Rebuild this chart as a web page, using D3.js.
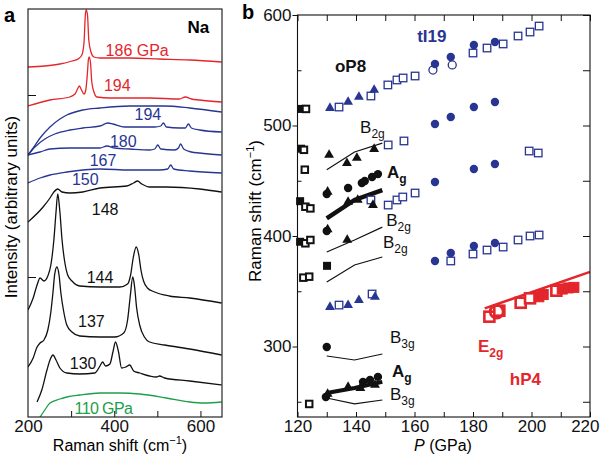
<!DOCTYPE html>
<html>
<head>
<meta charset="utf-8">
<script src="https://cdn.jsdelivr.net/npm/d3@7"></script>
<style>
  body { margin: 0; background: #fff; }
  svg text { font-family: "Liberation Sans", Arial, Helvetica, sans-serif; }
</style>
</head>
<body>
<svg id="chart" width="600" height="458"></svg>
<script>
// Set colours
var redColour = '#e3262c';
var blueColour = '#283593';
var greenColour = '#1c9e4b';
var blackColour = '#111111';

// ---- Panel a: Raman spectra, [shift (cm-1), intensity (arb.)] ----
var spec186 = [[200,350],[239,351],[274,353],[302,356],[316,358],[325,362],[330,375],[333,402],[335,407],[338,402],[341,377],[346,365],[353,360],[367,359],[436,359],[505,358],[575,357],[649,355]];
var spec194red = [[200,311],[251,317],[297,320],[309,323],[316,329],[319,331],[323,328],[330,323],[334,327],[338,345],[340,357],[342,360],[345,354],[348,335],[353,325],[360,320],[390,319],[482,319],[551,318],[565,320],[579,318],[598,317],[649,315]];
var spec194blue = [[200,262],[212,269],[228,279],[251,290],[274,298],[290,302],[327,307],[367,309],[436,311],[517,311],[575,309],[649,305]];
var spec180 = [[200,262],[216,270],[239,278],[262,283],[297,287],[327,289],[367,291],[385,294],[397,293],[424,290],[459,290],[494,290],[508,291],[514,294],[521,290],[551,289],[565,289],[572,293],[579,289],[598,287],[649,285]];
var spec167 = [[200,262],[228,265],[251,268],[297,269],[367,269],[383,271],[401,269],[436,268],[482,267],[494,268],[501,272],[508,268],[540,267],[549,269],[554,273],[561,268],[579,265],[598,264],[649,262]];
var spec150 = [[200,234],[228,239],[251,242],[290,245],[367,248],[436,247],[505,247],[524,248],[531,252],[538,248],[575,246],[649,244]];
var spec148 = [[200,195],[235,210],[251,219],[260,225],[269,228],[279,225],[297,224],[327,225],[367,229],[429,231],[445,234],[454,236],[464,233],[482,230],[521,230],[598,228],[649,225]];
var spec144 = [[200,107],[212,119],[221,132],[228,139],[237,136],[246,141],[253,152],[260,177],[265,205],[269,223],[274,205],[279,177],[286,153],[292,142],[302,136],[320,131],[367,130],[413,130],[431,133],[438,142],[444,159],[451,170],[457,162],[462,147],[468,136],[477,129],[494,125],[528,121],[575,119],[649,114]];
var spec137 = [[200,50],[212,59],[221,70],[228,74],[237,77],[246,87],[253,105],[258,125],[262,143],[267,150],[272,142],[276,125],[283,105],[290,92],[302,85],[320,81],[367,80],[401,80],[422,84],[431,97],[437,120],[443,140],[447,131],[452,109],[459,92],[470,80],[482,75],[517,72],[575,68],[649,62]];
var spec130 = [[221,15],[232,27],[244,47],[251,57],[258,62],[265,57],[274,49],[290,44],[320,43],[355,44],[367,51],[373,55],[380,51],[390,53],[397,65],[403,75],[410,65],[417,49],[427,50],[436,52],[445,46],[459,44],[482,41],[498,40],[505,41],[517,39],[575,36],[649,32]];
var spec110 = [[228,0],[239,7],[251,14],[274,18],[290,20],[320,22],[367,24],[413,24],[459,23],[521,19],[575,15],[609,14],[649,15]];

var shiftTicks = [300, 400, 500, 600];
var shiftLabels = [200, 400, 600];
var intensityTicks = [140, 322];

// ---- Panel b: Raman shift vs pressure, [P (GPa), shift (cm-1)] ----
var oP8OpenSquares = [[122.9,515],[122.2,478],[122.5,460],[122.7,426.5],[124.4,425],[122.7,393.4],[124.4,396.4],[122,362.3],[124,363.2],[124,248]];
var oP8FilledSquares = [[121.2,515],[121.2,479],[120.9,431.5],[120.9,394.8],[130.1,373]];
var oP8Triangles = [[130.8,473.3],[136.9,466],[140.3,470.6],[146.2,478.7],[130.3,440],[137.3,430.8],[140.6,432.6],[145.8,428],[130.3,406],[137,396.4],[130.3,257],[137.3,263.3],[141.5,262.4],[146.5,265.2]];
var oP8Circles = [[130,438],[137.3,443.4],[142,448],[143,449.8],[145.5,453.4],[147.5,456],[130,404.5],[130,299.5],[129.7,254.3],[142.4,268],[144.8,269.8],[147.5,272.5]];

var calcB2gUpper = [[130,460],[139.5,476],[149,484]];
var calcAgUpper = [[130,416],[139.5,432.6],[149,441.6]];
var calcB2gMiddle = [[130,385.5],[139.5,396.4],[149,408]];
var calcB2gLower = [[130,358.4],[139.5,373.8],[149,381]];
var calcB3gUpper = [[130,291.4],[139.5,287.8],[149,293.2]];
var calcAgLower = [[130,258],[139.5,262.4],[149,268]];
var calcB3gLower = [[130,253.4],[139.5,248],[149,251.6]];

var tI19Triangles = [[131.1,515.8],[137.3,521.3],[141,525.8],[146.2,532.1],[131.1,335.7],[137.3,337.5],[141,342],[146.5,344.8]];
var tI19OpenSquares = [[134.2,516.7],[145.1,526.7],[150.9,536.7],[154,541.2],[156.1,543],[160.2,544.8],[180,565.6],[184.8,570.1],[190.3,573.8],[195.4,581],[199.5,584.6],[202.6,590],
  [151,482.4],[156.4,486],
  [145.1,432.6],[151,428],[154,432.6],[156,435.3],[160.2,438.9],[199.2,476.9],[202.3,475.1],
  [172.4,377.4],[180,383.7],[184.8,387.3],[190.3,390],[195.4,396.4],[199.5,400],[202.6,400.9],
  [134.2,337.5],[145.5,347.5]];
var tI19Circles = [[167,555.7],[172.4,562],[180.3,572.9],[187.5,575.6],
  [167,501.4],[172.4,507.7],[180.3,516.8],[187.5,521.3],
  [167,448.9],[180.3,460.6],[187.5,465.2],
  [167,377.4],[172.4,384.6],[180.3,391],[187.5,393.7]];
var tI19OpenCircles = [[166.3,550.2],[172.9,554.8]];

var hP4OpenSquares = [[185.6,327],[189,332.4],[196.3,339.6],[199.5,343.6],[208.5,350.5]];
var hP4FilledSquares = [[202.5,345],[204,347],[210.5,352],[212.5,353],[214.5,353.5]];
var hP4OpenCircles = [[188.1,331.5]];
var hP4Fit = [[184,334.5],[220,367.5]];

var pressureTicks = [120,130,140,150,160,170,180,190,200,210,220];
var shiftMajor = [300, 400, 500, 600];
var shiftMinor = [250, 350, 450, 550];
var shiftRight = [250, 300, 350, 400, 450, 500, 550, 600];

var svg = d3.select('#chart');

// scales
var xA = d3.scaleLinear().domain([200, 650]).range([28, 222]);
var yA = d3.scaleLinear().domain([0, 408]).range([417, 9]);
var xB = d3.scaleLinear().domain([120, 220]).range([297.5, 590]);
var yB = d3.scaleLinear().domain([236.2, 600]).range([417, 15]);

var tickFont = 17;

function styleAxis(g, fontSize) {
  g.select('.domain').remove();
  g.selectAll('line').attr('stroke', blackColour).attr('stroke-width', 1);
  g.selectAll('text').attr('font-size', fontSize).attr('fill', blackColour)
    .style('font-family', '"Liberation Sans", Arial, sans-serif');
}

function addSubLabel(g, x, y, main, sub, colour, bold, size) {
  var t = g.append('text').attr('x', x).attr('y', y)
    .attr('fill', colour).attr('font-size', size || 17)
    .attr('font-weight', bold ? 'bold' : 'normal');
  t.append('tspan').text(main);
  if (sub) {
    t.append('tspan').attr('font-size', 12).attr('dy', 5).text(sub);
  }
  return t;
}

// ================= Panel a =================
var gA = svg.append('g');
svg.append('defs').append('clipPath').attr('id', 'clipA')
  .append('rect').attr('x', 28).attr('y', 9).attr('width', 194).attr('height', 408);

var lineA = d3.line()
  .x(function (d) { return xA(d[0]); })
  .y(function (d) { return yA(d[1]); })
  .curve(d3.curveMonotoneX);

var spectra = [
  { values: spec186, colour: redColour },
  { values: spec194red, colour: redColour },
  { values: spec194blue, colour: blueColour },
  { values: spec180, colour: blueColour },
  { values: spec167, colour: blueColour },
  { values: spec150, colour: blueColour },
  { values: spec148, colour: blackColour },
  { values: spec144, colour: blackColour },
  { values: spec137, colour: blackColour },
  { values: spec130, colour: blackColour },
  { values: spec110, colour: greenColour }
];

gA.append('g').attr('clip-path', 'url(#clipA)')
  .selectAll('path.spec')
  .data(spectra)
  .enter().append('path')
  .attr('class', 'spec')
  .attr('d', function (d) { return lineA(d.values); })
  .attr('fill', 'none')
  .attr('stroke', function (d) { return d.colour; })
  .attr('stroke-width', 1.3)
  .attr('stroke-linejoin', 'round');

// spectrum labels
var specLabels = [
  ['186 GPa', 380, 361, redColour],
  ['194', 376, 326, redColour],
  ['194', 447, 297, blueColour],
  ['180', 390, 270, blueColour],
  ['167', 343, 251, blueColour],
  ['150', 302, 232, blueColour],
  ['148', 348, 202, blackColour],
  ['144', 336, 134, blackColour],
  ['137', 316, 90, blackColour],
  ['130', 297, 48, blackColour]
];
gA.selectAll('text.specLabel')
  .data(specLabels)
  .enter().append('text')
  .attr('class', 'specLabel')
  .attr('x', function (d) { return xA(d[1]); })
  .attr('y', function (d) { return yA(d[2]); })
  .attr('fill', function (d) { return d[3]; })
  .attr('font-size', 16)
  .text(function (d) { return d[0]; });

gA.append('text')
  .attr('x', xA(308)).attr('y', yA(3))
  .attr('fill', greenColour).attr('font-size', 16)
  .attr('letter-spacing', -0.6)
  .text('110 GPa');

gA.append('text')
  .attr('x', xA(570)).attr('y', yA(384))
  .attr('font-size', 17).attr('font-weight', 'bold')
  .text('Na');

// frame a
gA.append('rect').attr('x', 28).attr('y', 9).attr('width', 194).attr('height', 408)
  .attr('fill', 'none').attr('stroke', blackColour).attr('stroke-width', 1.1);

// axes a
var axA = gA.append('g').attr('transform', 'translate(0,417)')
  .call(d3.axisBottom(xA).tickValues(shiftTicks).tickSize(-6).tickFormat(''));
styleAxis(axA, tickFont);
var axALab = gA.append('g').attr('transform', 'translate(0,417)')
  .call(d3.axisBottom(xA).tickValues(shiftLabels).tickSize(0).tickPadding(3));
styleAxis(axALab, tickFont);
axALab.selectAll('line').remove();

var ayA = gA.append('g').attr('transform', 'translate(28,0)')
  .call(d3.axisLeft(yA).tickValues(intensityTicks).tickSize(-8).tickFormat(''));
styleAxis(ayA, tickFont);

var titleA = gA.append('text')
  .attr('x', 120).attr('y', 451).attr('text-anchor', 'middle').attr('font-size', 16);
titleA.append('tspan').text('Raman shift (cm');
titleA.append('tspan').attr('font-size', 11).attr('dy', -7).text('\u22121');
titleA.append('tspan').attr('dy', 7).text(')');

gA.append('text')
  .attr('transform', 'translate(17,207) rotate(-90)')
  .attr('text-anchor', 'middle').attr('font-size', 17)
  .text('Intensity (arbitrary units)');

svg.append('text').attr('x', 4).attr('y', 22)
  .attr('font-size', 20).attr('font-weight', 'bold').text('a');

// ================= Panel b =================
var gB = svg.append('g');

var lineB = d3.line()
  .x(function (d) { return xB(d[0]); })
  .y(function (d) { return yB(d[1]); });

// calculated lines
var calcLines = [
  { values: calcB2gUpper, width: 1.2 },
  { values: calcAgUpper, width: 4.5 },
  { values: calcB2gMiddle, width: 1.2 },
  { values: calcB2gLower, width: 1.2 },
  { values: calcB3gUpper, width: 1.2 },
  { values: calcAgLower, width: 4 },
  { values: calcB3gLower, width: 1.2 }
];
gB.selectAll('path.calc')
  .data(calcLines)
  .enter().append('path')
  .attr('class', 'calc')
  .attr('d', function (d) { return lineB(d.values); })
  .attr('fill', 'none')
  .attr('stroke', blackColour)
  .attr('stroke-width', function (d) { return d.width; });

function drawSquares(data, side, colour, filled, strokeWidth) {
  gB.append('g').selectAll('rect')
    .data(data)
    .enter().append('rect')
    .attr('x', function (d) { return xB(d[0]) - side / 2; })
    .attr('y', function (d) { return yB(d[1]) - side / 2; })
    .attr('width', side).attr('height', side)
    .attr('fill', filled ? colour : '#fff')
    .attr('stroke', colour)
    .attr('stroke-width', strokeWidth);
}

function drawCircles(data, r, colour, filled, strokeWidth) {
  gB.append('g').selectAll('circle')
    .data(data)
    .enter().append('circle')
    .attr('cx', function (d) { return xB(d[0]); })
    .attr('cy', function (d) { return yB(d[1]); })
    .attr('r', r)
    .attr('fill', filled ? colour : 'none')
    .attr('stroke', colour)
    .attr('stroke-width', strokeWidth);
}

function drawTriangles(data, colour) {
  var tri = d3.symbol().type(d3.symbolTriangle).size(42);
  gB.append('g').selectAll('path')
    .data(data)
    .enter().append('path')
    .attr('d', tri)
    .attr('transform', function (d) { return 'translate(' + xB(d[0]) + ',' + yB(d[1]) + ')'; })
    .attr('fill', colour);
}

// black oP8 markers
drawSquares(oP8FilledSquares, 6.5, blackColour, true, 1.5);
drawSquares(oP8OpenSquares, 6.5, blackColour, false, 2);
// blue tI19 markers
drawSquares(tI19OpenSquares, 7.5, blueColour, false, 1.3);
drawCircles(tI19OpenCircles, 4, blueColour, false, 1.3);
drawCircles(tI19Circles, 4.2, blueColour, true, 0);
drawTriangles(tI19Triangles, blueColour);
drawCircles(oP8Circles, 4.2, blackColour, true, 0);
drawTriangles(oP8Triangles, blackColour);

// red hP4
gB.append('path')
  .attr('d', lineB(hP4Fit))
  .attr('fill', 'none').attr('stroke', redColour).attr('stroke-width', 2.5);
drawSquares(hP4OpenSquares, 10, redColour, false, 2.6);
drawSquares(hP4FilledSquares, 10, redColour, true, 1);
drawCircles(hP4OpenCircles, 6.5, redColour, false, 2.8);

// labels b
gB.append('text').attr('x', xB(160.9)).attr('y', yB(575.6))
  .attr('fill', blueColour).attr('font-size', 17).attr('font-weight', 'bold').text('tI19');
gB.append('text').attr('x', xB(132.8)).attr('y', yB(548.4))
  .attr('fill', blackColour).attr('font-size', 17).attr('font-weight', 'bold').text('oP8');
addSubLabel(gB, xB(141.4), yB(493.2), 'B', '2g', blackColour, false);
addSubLabel(gB, xB(150.6), yB(452.5), 'A', 'g', blackColour, true);
addSubLabel(gB, xB(150.3), yB(409.1), 'B', '2g', blackColour, false);
addSubLabel(gB, xB(149.2), yB(389.1), 'B', '2g', blackColour, false);
addSubLabel(gB, xB(151.6), yB(303.2), 'B', '3g', blackColour, false);
addSubLabel(gB, xB(152.3), yB(272.4), 'A', 'g', blackColour, true);
addSubLabel(gB, xB(151.6), yB(251.6), 'B', '3g', blackColour, false);
addSubLabel(gB, xB(181.7), yB(295), 'E', '2g', redColour, true);
gB.append('text').attr('x', xB(192.6)).attr('y', yB(265.2))
  .attr('fill', redColour).attr('font-size', 17).attr('font-weight', 'bold').text('hP4');

// frame b
gB.append('rect').attr('x', 297.5).attr('y', 15).attr('width', 292.5).attr('height', 402)
  .attr('fill', 'none').attr('stroke', blackColour).attr('stroke-width', 1.1);

// axes b
var axB = gB.append('g').attr('transform', 'translate(0,417)')
  .call(d3.axisBottom(xB).tickValues(pressureTicks).tickSize(-5).tickPadding(3)
    .tickFormat(function (d) { return d % 20 === 0 ? d : ''; }));
styleAxis(axB, tickFont);
// last label sits against the right edge of the figure
axB.selectAll('.tick').filter(function (d) { return d === 220; }).select('text')
  .attr('text-anchor', 'end').attr('x', 9);
var axBTop = gB.append('g').attr('transform', 'translate(0,15)')
  .call(d3.axisTop(xB).tickValues(pressureTicks).tickSize(-6).tickFormat(''));
styleAxis(axBTop, tickFont);
var ayB = gB.append('g').attr('transform', 'translate(297.5,0)')
  .call(d3.axisLeft(yB).tickValues(shiftMajor).tickSize(5).tickPadding(1));
styleAxis(ayB, tickFont);
var ayBMinor = gB.append('g').attr('transform', 'translate(297.5,0)')
  .call(d3.axisLeft(yB).tickValues(shiftMinor).tickSize(-4).tickFormat(''));
styleAxis(ayBMinor, tickFont);
var ayBRight = gB.append('g').attr('transform', 'translate(590,0)')
  .call(d3.axisRight(yB).tickValues(shiftRight).tickSize(-7).tickFormat(''));
styleAxis(ayBRight, tickFont);

var titleB = gB.append('text')
  .attr('x', 443).attr('y', 451).attr('text-anchor', 'middle').attr('font-size', 16);
titleB.append('tspan').attr('font-style', 'italic').text('P');
titleB.append('tspan').text(' (GPa)');

var titleBy = gB.append('text')
  .attr('transform', 'translate(261,211) rotate(-90)')
  .attr('text-anchor', 'middle').attr('font-size', 17);
titleBy.append('tspan').text('Raman shift (cm');
titleBy.append('tspan').attr('font-size', 11).attr('dy', -7).text('\u22121');
titleBy.append('tspan').attr('dy', 7).text(')');

svg.append('text').attr('x', 242).attr('y', 19)
  .attr('font-size', 20).attr('font-weight', 'bold').text('b');
</script>
</body>
</html>
